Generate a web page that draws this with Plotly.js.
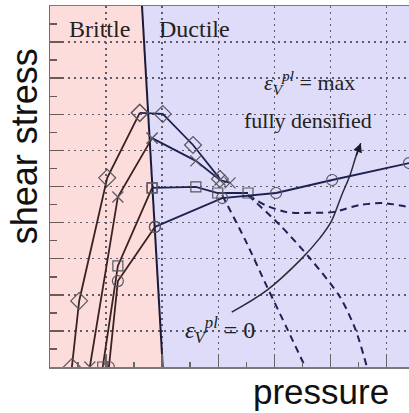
<!DOCTYPE html>
<html>
<head>
<meta charset="utf-8">
<script src="https://cdn.plot.ly/plotly-3.0.1.min.js"></script>
<style>html,body{margin:0;padding:0;background:#fff;overflow:hidden}#chart{width:409px;height:413px}</style>
</head>
<body>
<div id="chart"></div>
<script>
// axis extents (pressure, shear stress in grid units)
const xRange = [0, 6.4];
const yRange = [0, 10];

// brittle / ductile boundary
const boundaryX = [1.64, 2.01];
const boundaryY = [10, 0];

// diamond series
const diamondBrittleX = [0.39, 0.52, 1.02, 1.60];
const diamondBrittleY = [0, 1.83, 5.24, 7.04];
const diamondDuctileX = [1.60, 2.01, 2.55, 3.03];
const diamondDuctileY = [7.04, 7.01, 6.15, 5.21];

// cross series
const crossBrittleX = [0.71, 1.21, 1.82];
const crossBrittleY = [0, 4.71, 6.34];
const crossDuctileX = [1.82, 2.60, 3.03, 3.21];
const crossDuctileY = [6.34, 5.71, 5.18, 5.10];

// square series
const squareBrittleX = [0.94, 1.21, 1.82];
const squareBrittleY = [0, 2.80, 4.96];
const squareDuctileX = [1.82, 2.60, 2.99, 3.53];
const squareDuctileY = [4.96, 4.99, 4.82, 4.82];

// circle series
const circleBrittleX = [1.05, 1.21, 1.87];
const circleBrittleY = [0, 2.38, 3.88];
const circleDuctileX = [1.87, 3.07, 4.03, 5.03, 6.40];
const circleDuctileY = [3.88, 4.68, 4.82, 5.18, 5.65];

// dashed continuation curves
const dashAX = [3.07, 3.48, 3.87, 4.24, 4.55];
const dashAY = [4.76, 3.52, 2.22, 1.02, 0];
const dashBX = [3.53, 4.10, 4.63, 5.17, 5.45, 5.65];
const dashBY = [4.76, 3.93, 3.02, 1.94, 1.02, 0];
const dashCX = [3.53, 3.83, 4.22, 4.63, 5.04, 5.53, 5.94, 6.40];
const dashCY = [4.76, 4.49, 4.29, 4.27, 4.29, 4.49, 4.54, 4.43];

// arrow curve from eps=0 to eps=max
const arrowX = [3.24, 3.87, 4.46, 4.81, 5.01, 5.20, 5.35, 5.45, 5.54];
const arrowY = [1.52, 2.13, 2.96, 3.57, 4.02, 4.76, 5.32, 5.82, 6.20];

// labels
const regionLabels = ['Brittle', 'Ductile'];
const regionLabelX = [0.89, 2.57];
const regionLabelY = [9.36, 9.36];
const noteLabels = ['<i>ε</i><sub><i>V</i></sub><sup><i>pl</i></sup> = max', 'fully densified', '<i>ε</i><sub><i>V</i></sub><sup><i>pl</i></sup> = 0'];
const noteX = [4.62, 4.60, 3.03];
const noteY = [7.87, 6.84, 1.02];
const xTitle = 'pressure';
const yTitle = 'shear stress';

const brittleColor = '#3b2222';
const ductileColor = '#1c2152';
const markerColor = '#5a5760';

function series(x, y, symbol, size, color) {
  return {
    x: x, y: y, type: 'scatter', mode: 'lines+markers',
    line: {color: color, width: 1.8},
    marker: {symbol: symbol, size: size, color: markerColor, line: {color: markerColor, width: 1.2}},
    showlegend: false, hoverinfo: 'skip'
  };
}
function dashed(x, y) {
  return {x: x, y: y, type: 'scatter', mode: 'lines',
    line: {color: ductileColor, width: 2, dash: '7px,5px', shape: 'spline', smoothing: 0.8},
    showlegend: false, hoverinfo: 'skip'};
}

const traces = [
  {x: boundaryX, y: boundaryY, type: 'scatter', mode: 'lines', line: {color: '#1a1a3a', width: 2}, showlegend: false, hoverinfo: 'skip'},
  dashed(dashAX, dashAY),
  dashed(dashBX, dashBY),
  dashed(dashCX, dashCY),
  {x: arrowX, y: arrowY, type: 'scatter', mode: 'lines', line: {color: '#2a2a3a', width: 1.5, shape: 'spline'}, showlegend: false, hoverinfo: 'skip'},
  series(diamondBrittleX, diamondBrittleY, 'diamond-open', 13, brittleColor),
  series(diamondDuctileX, diamondDuctileY, 'diamond-open', 13, ductileColor),
  series(crossBrittleX, crossBrittleY, 'x-thin-open', 11, brittleColor),
  series(crossDuctileX, crossDuctileY, 'x-thin-open', 11, ductileColor),
  series(squareBrittleX, squareBrittleY, 'square-open', 10, brittleColor),
  series(squareDuctileX, squareDuctileY, 'square-open', 10, ductileColor),
  series(circleBrittleX, circleBrittleY, 'circle-open', 11, brittleColor),
  series(circleDuctileX, circleDuctileY, 'circle-open', 11, ductileColor)
];

const pinkPath = 'M ' + xRange[0] + ',' + yRange[0] + ' L ' + boundaryX[1] + ',' + boundaryY[1] +
  ' L ' + boundaryX[0] + ',' + boundaryY[0] + ' L ' + xRange[0] + ',' + yRange[1] + ' Z';

const annotations = [];
regionLabels.forEach((t, i) => annotations.push({
  x: regionLabelX[i], y: regionLabelY[i], xref: 'x', yref: 'y', text: t, showarrow: false,
  font: {family: 'Liberation Serif, Times New Roman, serif', size: 24, color: '#222'}
}));
noteLabels.forEach((t, i) => annotations.push({
  x: noteX[i], y: noteY[i], xref: 'x', yref: 'y', text: t, showarrow: false,
  font: {family: 'Liberation Serif, Times New Roman, serif', size: i === 2 ? 24 : 22, color: '#222'}
}));
const n = arrowX.length;
annotations.push({
  x: arrowX[n - 1], y: arrowY[n - 1], ax: arrowX[n - 2], ay: arrowY[n - 2],
  xref: 'x', yref: 'y', axref: 'x', ayref: 'y', text: '', showarrow: true,
  arrowhead: 2, arrowsize: 1.2, arrowwidth: 1.5, arrowcolor: '#1a1a2a'
});
annotations.push({
  x: -0.072, y: 0.612, xref: 'paper', yref: 'paper', xanchor: 'center', yanchor: 'middle',
  text: yTitle, textangle: -90, showarrow: false,
  font: {family: 'Liberation Sans, Arial, sans-serif', size: 36, color: '#111'}
});
annotations.push({
  x: 0.755, y: -0.068, xref: 'paper', yref: 'paper', xanchor: 'center', yanchor: 'middle',
  text: xTitle, showarrow: false,
  font: {family: 'Liberation Sans, Arial, sans-serif', size: 35, color: '#111'}
});

const gridStyle = {showgrid: true, gridcolor: '#5c5c6c', gridwidth: 1.5, griddash: '2px,4px'};

const layout = {
  width: 409, height: 413,
  margin: {l: 50, r: 0, t: 6, b: 46, pad: 0},
  paper_bgcolor: '#ffffff',
  plot_bgcolor: '#dedcf8',
  showlegend: false,
  xaxis: Object.assign({
    range: xRange, dtick: 1, tick0: 0, ticks: 'inside', ticklen: 13, tickwidth: 1.5, tickcolor: '#666',
    minor: {dtick: 0.5, ticks: 'inside', ticklen: 5, tickcolor: '#666', tickwidth: 1.5, showgrid: false},
    showticklabels: false, zeroline: false, showline: true, linecolor: '#7a7a7a', linewidth: 1.5, mirror: true
  }, gridStyle),
  yaxis: Object.assign({
    range: yRange, dtick: 1, tick0: 0, ticks: 'inside', ticklen: 13, tickwidth: 1.5, tickcolor: '#6a5a5a',
    minor: {dtick: 0.5, ticks: 'inside', ticklen: 7, tickcolor: '#6a5a5a', tickwidth: 1.5, showgrid: false},
    showticklabels: false, zeroline: false, showline: true, linecolor: '#7a6a6a', linewidth: 1.5
  }, gridStyle),
  shapes: [{type: 'path', path: pinkPath, xref: 'x', yref: 'y', fillcolor: '#fddcdc', line: {width: 0}, layer: 'below'}],
  annotations: annotations
};

Plotly.newPlot('chart', traces, layout, {staticPlot: true, displayModeBar: false});
</script>
</body>
</html>
